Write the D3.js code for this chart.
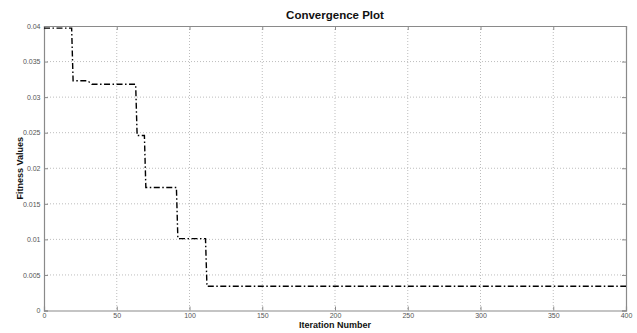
<!DOCTYPE html>
<html><head><meta charset="utf-8">
<script src="https://cdn.jsdelivr.net/npm/d3@7"></script>
<style>body{margin:0;background:#fff;}svg{display:block;}</style>
</head><body>
<svg id="c" width="637" height="333"></svg>
<script>
const iterations = [0, 19, 20, 30, 33, 63, 64, 69, 70, 91, 92, 111, 112, 400];
const fitness = [0.0397, 0.0397, 0.0323, 0.0323, 0.0318, 0.0318, 0.0246, 0.0246, 0.0173, 0.0173, 0.0101, 0.0101, 0.0034, 0.0034];
const xTicks = [0, 50, 100, 150, 200, 250, 300, 350, 400];
const yTicks = [0, 0.005, 0.01, 0.015, 0.02, 0.025, 0.03, 0.035, 0.04];
const yTickLabels = ["0", "0.005", "0.01", "0.015", "0.02", "0.025", "0.03", "0.035", "0.04"];
const title = "Convergence Plot";
const xLabel = "Iteration Number";
const yLabel = "Fitness Values";

const svg = d3.select("#c");
const L = 44, R = 626, T = 26, B = 310.5;
const x = d3.scaleLinear().domain([0, 400]).range([L, R]);
const y = d3.scaleLinear().domain([0, 0.04]).range([B, T]);
const axisCol = "#8a8a8a";
const font = "Liberation Sans, Arial, sans-serif";

// grid
const g = svg.append("g");
g.selectAll(".gx").data(xTicks.slice(1, -1)).enter().append("line")
  .attr("x1", d => x(d)).attr("x2", d => x(d)).attr("y1", T).attr("y2", B)
  .attr("stroke", "#bdbdbd").attr("stroke-width", 1).attr("stroke-dasharray", "1,2");
g.selectAll(".gy").data(yTicks.slice(1, -1)).enter().append("line")
  .attr("x1", L).attr("x2", R).attr("y1", d => y(d)).attr("y2", d => y(d))
  .attr("stroke", "#bdbdbd").attr("stroke-width", 1).attr("stroke-dasharray", "1,2");

// axes
const fmtY = d => yTickLabels[yTicks.indexOf(d)];
const xAxis = svg.append("g").attr("transform", `translate(0,${B})`)
  .call(d3.axisBottom(x).tickValues(xTicks).tickSize(-4).tickPadding(3).tickFormat(d3.format("d")));
const xAxisTop = svg.append("g").attr("transform", `translate(0,${T})`)
  .call(d3.axisTop(x).tickValues(xTicks).tickSize(-4).tickFormat(""));
const yAxis = svg.append("g").attr("transform", `translate(${L},0)`)
  .call(d3.axisLeft(y).tickValues(yTicks).tickSize(-4).tickPadding(3.5).tickFormat(fmtY));
const yAxisR = svg.append("g").attr("transform", `translate(${R},0)`)
  .call(d3.axisRight(y).tickValues(yTicks).tickSize(-4).tickFormat(""));
[xAxis, xAxisTop, yAxis, yAxisR].forEach(a => {
  a.select(".domain").attr("stroke", axisCol).attr("stroke-width", 1.2);
  a.selectAll(".tick line").attr("stroke", axisCol);
  a.selectAll("text").attr("fill", "#555").style("font-family", font).style("font-size", "7px");
});

// line
const line = d3.line().x((d, i) => x(iterations[i])).y(d => y(d));
svg.append("path").datum(fitness).attr("d", line)
  .attr("fill", "none").attr("stroke", "#000").attr("stroke-width", 1.4)
  .attr("stroke-dasharray", "6,2.5,1.5,2.5");

// labels
svg.append("text").attr("x", (L + R) / 2).attr("y", 18.5).attr("text-anchor", "middle")
  .style("font-family", font).style("font-weight", "bold").style("font-size", "11.5px")
  .attr("fill", "#111").text(title);
svg.append("text").attr("x", (L + R) / 2).attr("y", 328).attr("text-anchor", "middle")
  .style("font-family", font).style("font-weight", "bold").style("font-size", "9px")
  .attr("fill", "#111").text(xLabel);
svg.append("text").attr("transform", `translate(22.5,${(T + B) / 2}) rotate(-90)`).attr("text-anchor", "middle")
  .style("font-family", font).style("font-weight", "bold").style("font-size", "9px")
  .attr("fill", "#111").text(yLabel);
</script>
</body></html>
